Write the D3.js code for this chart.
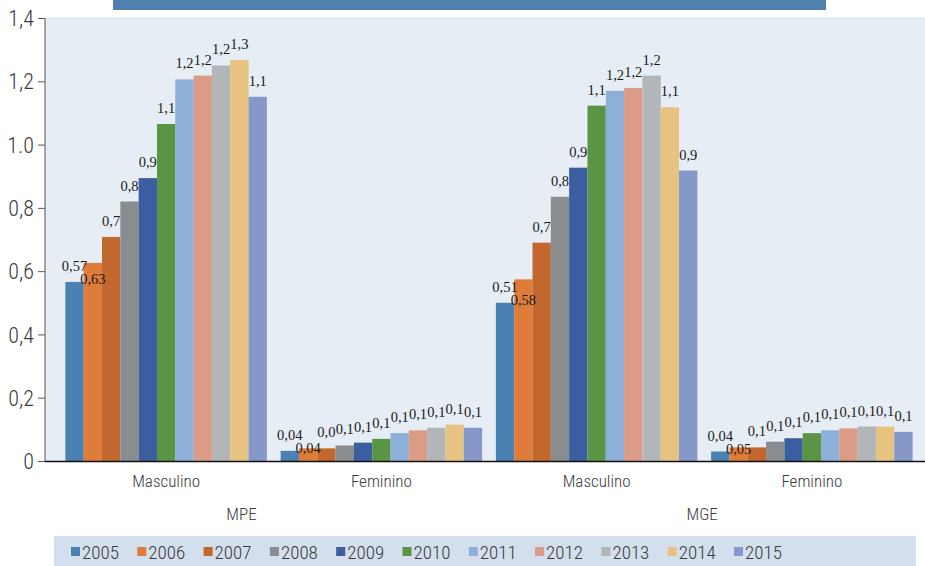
<!DOCTYPE html>
<html>
<head>
<meta charset="utf-8">
<script src="https://cdn.jsdelivr.net/npm/d3@7"></script>
<style>
  html, body { margin: 0; padding: 0; background: #ffffff; }
  svg { display: block; }
  .narrow { font-family: "Liberation Sans Narrow", "Arial Narrow", "Roboto Condensed", "DejaVu Sans Condensed", sans-serif; font-stretch: condensed; font-weight: 300; }
  .dl { font-family: "Liberation Serif", "DejaVu Serif", serif; }
</style>
</head>
<body>
<svg id="chart" width="925" height="566"></svg>
<script>
// ---- data ----
const years = ["2005","2006","2007","2008","2009","2010","2011","2012","2013","2014","2015"];
const groups = ["MPE|Masculino","MPE|Feminino","MGE|Masculino","MGE|Feminino"];
const categoryLabels = ["Masculino","Feminino","Masculino","Feminino"];
const companyLabels = ["MPE","MGE"];
const mpeMasculino = [0.566,0.626,0.708,0.82,0.894,1.065,1.206,1.218,1.25,1.267,1.151];
const mpeFeminino  = [0.032,0.040,0.040,0.049,0.058,0.070,0.088,0.097,0.105,0.115,0.105];
const mgeMasculino = [0.50,0.574,0.69,0.835,0.927,1.123,1.170,1.179,1.218,1.118,0.918];
const mgeFeminino  = [0.030,0.043,0.043,0.061,0.072,0.088,0.097,0.103,0.109,0.109,0.092];
const mpeMasculinoLabels = ["0,57","0,63","0,7","0,8","0,9","1,1","1,2","1,2","1,2","1,3","1,1"];
const mpeFemininoLabels  = ["0,04","0,04","0,0","0,1","0,1","0,1","0,1","0,1","0,1","0,1","0,1"];
const mgeMasculinoLabels = ["0,51","0,58","0,7","0,8","0,9","1,1","1,2","1,2","1,2","1,1","0,9"];
const mgeFemininoLabels  = ["0,04","0,05","0,1","0,1","0,1","0,1","0,1","0,1","0,1","0,1","0,1"];
const yTicks = [0,0.2,0.4,0.6,0.8,1.0,1.2,1.4];
const yTickLabels = ["0","0,2","0,4","0,6","0,8","1.0","1,2","1,4"];
const colors = ["#4a80b2","#e07c3a","#c2682f","#8a8d90","#3a5e9f","#5a9544","#8cb0d8","#db9b86","#b3b6b9","#e7c381","#8598c9"];

const seriesByGroup = [mpeMasculino, mpeFeminino, mgeMasculino, mgeFeminino];
const labelsByGroup = [mpeMasculinoLabels, mpeFemininoLabels, mgeMasculinoLabels, mgeFemininoLabels];

// ---- layout ----
const W = 925, H = 566;
const plotLeft = 45, plotTop = 17, plotBottom = 461;
const svg = d3.select("#chart");

const y = d3.scaleLinear().domain([0, 1.4]).range([plotBottom, plotTop + 1]);
const x0 = d3.scaleBand().domain(groups).range([58.5, 919.5]).paddingInner(0.064).paddingOuter(0.032);
const x1 = d3.scaleBand().domain(years).range([0, x0.bandwidth()]).padding(0);
const color = d3.scaleOrdinal().domain(years).range(colors);

// title bar (cropped in the reference)
svg.append("rect").attr("x", 113).attr("y", 0).attr("width", 713).attr("height", 10).attr("fill", "#5080b0");

// plot background
svg.append("rect").attr("x", plotLeft).attr("y", plotTop).attr("width", W - plotLeft).attr("height", plotBottom - plotTop).attr("fill", "#e6edf5");

// y axis
const yAxis = d3.axisLeft(y).tickValues(yTicks).tickSize(7).tickPadding(4)
  .tickFormat((d, i) => yTickLabels[i]);
const gy = svg.append("g").attr("transform", `translate(${plotLeft},0)`).call(yAxis);
gy.select(".domain").attr("stroke", "#555").attr("d", `M0,${y(1.4)}V${plotBottom}`);
gy.selectAll(".tick line").attr("stroke", "#555");
gy.selectAll(".tick text").attr("class", "narrow").attr("font-size", 22).attr("fill", "#3a3a3a").attr("dy", "0.35em");

// bars
const rows = [];
groups.forEach((g, gi) => {
  years.forEach((yr, si) => {
    rows.push({ g, gi, yr, si, v: seriesByGroup[gi][si], label: labelsByGroup[gi][si] });
  });
});

svg.append("g").selectAll("rect").data(rows).join("rect")
  .attr("x", d => x0(d.g) + x1(d.yr))
  .attr("y", d => y(d.v))
  .attr("width", x1.bandwidth())
  .attr("height", d => y(0) - y(d.v))
  .attr("fill", d => color(d.yr));

// baseline
svg.append("line").attr("x1", plotLeft).attr("x2", W).attr("y1", plotBottom + 0.5).attr("y2", plotBottom + 0.5)
  .attr("stroke", "#111").attr("stroke-width", 1.3);

// data labels (2006 label dodged below the 2005 label, as in the reference)
function labelY(d) {
  if (d.si === 1) {
    const prev = seriesByGroup[d.gi][0];
    return y(prev) - 11 + 13;
  }
  return y(d.v) - 11;
}
svg.append("g").selectAll("text").data(rows).join("text")
  .attr("class", "dl")
  .attr("x", d => x0(d.g) + x1(d.yr) + x1.bandwidth() / 2)
  .attr("y", labelY)
  .attr("text-anchor", "middle")
  .attr("font-size", 14.5)
  .attr("fill", "#1a1a1a")
  .text(d => d.label);

// category labels
svg.append("g").selectAll("text").data(groups).join("text")
  .attr("class", "narrow")
  .attr("x", d => x0(d) + x0.bandwidth() / 2)
  .attr("y", 487)
  .attr("text-anchor", "middle")
  .attr("font-size", 17)
  .attr("fill", "#3a3a3a")
  .text((d, i) => categoryLabels[i]);

// company labels
const compX = [x0(groups[0]) + x0.bandwidth() / 2 + x0.step() * 0.35,
               x0(groups[2]) + x0.bandwidth() / 2 + x0.step() * 0.49];
svg.append("g").selectAll("text").data(companyLabels).join("text")
  .attr("class", "narrow")
  .attr("x", (d, i) => compX[i])
  .attr("y", 520)
  .attr("text-anchor", "middle")
  .attr("font-size", 17)
  .attr("fill", "#3a3a3a")
  .text(d => d);

// legend
svg.append("rect").attr("x", 54).attr("y", 536).attr("width", 862).attr("height", 30).attr("fill", "#d3dfec");
const lg = svg.append("g").selectAll("g").data(years).join("g")
  .attr("transform", (d, i) => `translate(${71 + i * 66.3},552)`);
lg.append("rect").attr("x", 0).attr("y", -5).attr("width", 9).attr("height", 9).attr("fill", d => color(d));
lg.append("text").attr("class", "narrow").attr("x", 11).attr("y", 0).attr("dy", "0.35em")
  .attr("font-size", 19).attr("fill", "#3a3a3a").text(d => d);
</script>
</body>
</html>
